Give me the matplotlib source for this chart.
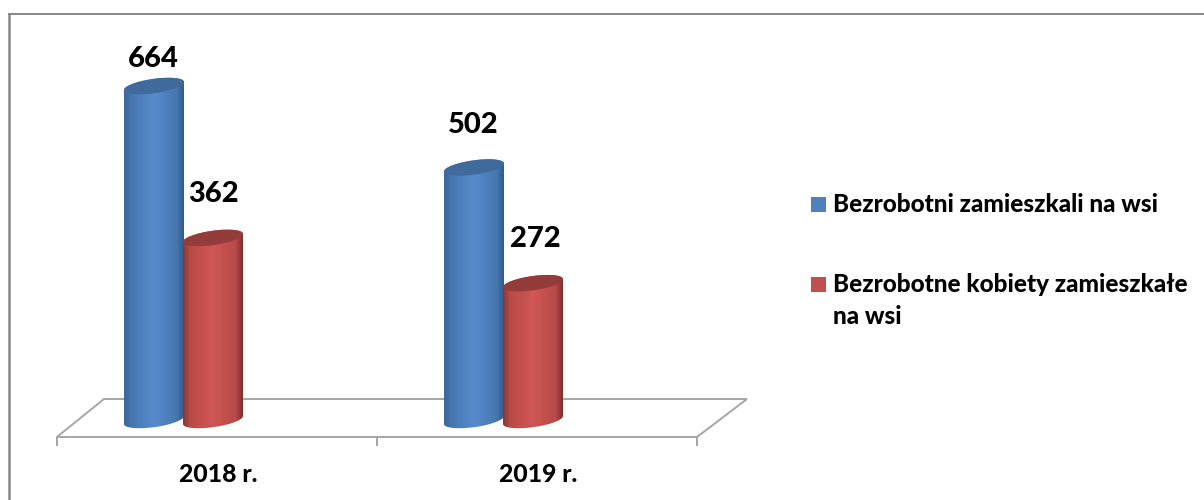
import numpy as np
import matplotlib
matplotlib.use("Agg")
import matplotlib.pyplot as plt
from matplotlib.colors import LinearSegmentedColormap
from matplotlib.patches import PathPatch, Polygon, Rectangle
from matplotlib.path import Path

plt.rcParams['font.family'] = ['Lato', 'DejaVu Sans']

years = ["2018 r.", "2019 r."]
rural = [664, 502]
rural_women = [362, 272]
names = ["Bezrobotni zamieszkali na wsi", "Bezrobotne kobiety zamieszkałe\nna wsi"]

W, H = 1204, 500
PX_PER_UNIT = 0.503
PX_PER_CAT = 320
BASE_Y = 420
FIRST_X = 154
BAR_W = 60
WEIGHT = 900

fig = plt.figure(figsize=(W / 100, H / 100), dpi=100)

# background layer in plain pixels, for frame, floor and text
bg = fig.add_axes([0, 0, 1, 1])
bg.set_xlim(0, W)
bg.set_ylim(H, 0)
bg.axis("off")

grey = "#868686"
bg.plot([8.5, 8.5], [500, 13.5], color=grey, lw=1.8)
bg.plot([8.5, W], [13.5, 13.5], color=grey, lw=1.4)

bg.add_patch(Polygon([(57, 437), (104, 399), (747, 399), (697, 437)], closed=True,
                     fc="white", ec="#a6a6a6", lw=1.4))
for t in [57, 377, 697]:
    bg.plot([t, t], [437, 445], color="#a6a6a6", lw=1.4)
for i, lab in enumerate(years):
    bg.text(218 + i * PX_PER_CAT, 475, lab, ha="center", va="center",
            fontsize=17.8, fontweight=WEIGHT, color="black")

# bars layer, real value scale
ax = fig.add_axes([0, 0, 1, 1])
ax.patch.set_alpha(0)
ax.axis("off")
xlim = (-FIRST_X / PX_PER_CAT, (W - FIRST_X) / PX_PER_CAT)
ylim = ((BASE_Y - H) / PX_PER_UNIT, BASE_Y / PX_PER_UNIT)

blue_cm = LinearSegmentedColormap.from_list(
    "b", [(0, "#3a6597"), (0.12, "#4677b1"), (0.5, "#578bcc"), (0.88, "#4677b1"), (1, "#325b8a")])
red_cm = LinearSegmentedColormap.from_list(
    "r", [(0, "#8e3633"), (0.12, "#b84a47"), (0.5, "#cf5755"), (0.88, "#b84a47"), (1, "#7e2f2d")])


def cylinder(cat, value, dx, cmap, top_col, z):
    cx = cat + dx / PX_PER_CAT
    a = BAR_W / 2 / PX_PER_CAT
    b = 7.2 / PX_PER_UNIT
    s = 4 / PX_PER_UNIT
    t = np.linspace(0, 2 * np.pi, 80)
    ex = a * np.cos(t)
    ey = b * np.sin(t) + s * np.cos(t)
    low = t[(t >= np.pi)]
    low_x = cx + a * np.cos(low)
    low_y = b * np.sin(low) + s * np.cos(low)
    top = t[(t <= np.pi)]
    top_x = cx + a * np.cos(top)
    top_y = value + b * np.sin(top) + s * np.cos(top)
    xs = np.r_[top_x, low_x]
    ys = np.r_[top_y, low_y]
    body = PathPatch(Path(np.c_[xs, ys]), transform=ax.transData, fc="none", ec="none", zorder=z)
    ax.add_patch(body)
    grad = np.linspace(0, 1, 128)[None, :]
    im = ax.imshow(grad, cmap=cmap, aspect="auto", zorder=z,
                   extent=(cx - a, cx + a, -30, value + 30))
    im.set_clip_path(body)
    ax.fill(cx + ex, value + ey, color=top_col, lw=0, zorder=z + 0.5)


# how far above the cylinder each label sits, in pixels
blue_gap = [27.5, 42.5]
red_gap = [44, 44.5]

for i in range(len(years)):
    cylinder(i, rural[i], 0, blue_cm, "#3f6a9b", 3)
    cylinder(i, rural_women[i], BAR_W - 1, red_cm, "#943c3a", 4)
    ax.text(i - 1 / PX_PER_CAT, rural[i] + blue_gap[i] / PX_PER_UNIT, str(rural[i]), ha="center", va="center",
            fontsize=21, fontweight=WEIGHT, color="black", zorder=6)
    ax.text(i + (BAR_W + i) / PX_PER_CAT, rural_women[i] + red_gap[i] / PX_PER_UNIT, str(rural_women[i]),
            ha="center", va="center", fontsize=21, fontweight=WEIGHT, color="black", zorder=6)

ax.set_xlim(xlim)
ax.set_ylim(ylim)

# legend
bg.add_patch(Rectangle((811, 197), 15, 15, fc="#4f81bd", ec="none"))
bg.add_patch(Rectangle((811, 277), 15, 15, fc="#c0504d", ec="none"))
bg.text(833, 212, names[0], fontsize=17.5, fontweight=WEIGHT, va="baseline", color="black")
first, second = names[1].split("\n")
bg.text(833, 292, first, fontsize=17.5, fontweight=WEIGHT, va="baseline", color="black")
bg.text(833, 324, second, fontsize=17.5, fontweight=WEIGHT, va="baseline", color="black")

fig.savefig("out.png", dpi=100, facecolor="white")
